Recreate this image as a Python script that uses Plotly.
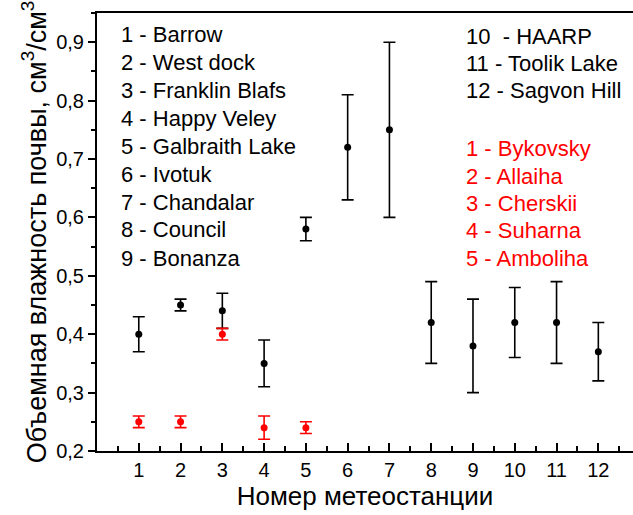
import plotly.graph_objects as go

# Data
stations = [1, 2, 3, 4, 5, 6, 7, 8, 9, 10, 11, 12]
black_vals = [0.40, 0.45, 0.44, 0.35, 0.58, 0.72, 0.75, 0.42, 0.38, 0.42, 0.42, 0.37]
black_hi = [0.43, 0.46, 0.47, 0.39, 0.60, 0.81, 0.90, 0.49, 0.46, 0.48, 0.49, 0.42]
black_lo = [0.37, 0.44, 0.41, 0.31, 0.56, 0.63, 0.60, 0.35, 0.30, 0.36, 0.35, 0.32]

red_stations = [1, 2, 3, 4, 5]
red_vals = [0.25, 0.25, 0.40, 0.24, 0.24]
red_hi = [0.26, 0.26, 0.41, 0.26, 0.25]
red_lo = [0.24, 0.24, 0.39, 0.22, 0.23]

left_labels = ["1 - Barrow", "2 - West dock", "3 - Franklin Blafs", "4 - Happy Veley",
               "5 - Galbraith Lake", "6 - Ivotuk", "7 - Chandalar", "8 - Council", "9 - Bonanza"]
right_labels = ["10\u00a0 - HAARP", "11 - Toolik Lake", "12 - Sagvon Hill"]
red_labels = ["1 - Bykovsky", "2 - Allaiha", "3 - Cherskii", "4 - Suharna", "5 - Amboliha"]

y_ticks = [0.2, 0.3, 0.4, 0.5, 0.6, 0.7, 0.8, 0.9]
y_ticktext = ["0,2", "0,3", "0,4", "0,5", "0,6", "0,7", "0,8", "0,9"]

FONT = "Liberation Sans, Arial, sans-serif"

fig = go.Figure()
fig.add_trace(go.Scatter(
    x=stations, y=black_vals, mode="markers",
    marker=dict(color="black", size=7),
    error_y=dict(type="data", symmetric=False,
                 array=[h - v for h, v in zip(black_hi, black_vals)],
                 arrayminus=[v - l for l, v in zip(black_lo, black_vals)],
                 color="black", thickness=1.6, width=6),
    showlegend=False))
fig.add_trace(go.Scatter(
    x=red_stations, y=red_vals, mode="markers",
    marker=dict(color="red", size=7),
    error_y=dict(type="data", symmetric=False,
                 array=[h - v for h, v in zip(red_hi, red_vals)],
                 arrayminus=[v - l for l, v in zip(red_lo, red_vals)],
                 color="red", thickness=1.6, width=6),
    showlegend=False))

# plot area geometry (pixels) for annotation placement
L, R, T, B = 97, 633, 13.3, 450.7
def px(x):
    return (x - L) / (R - L)
def py(y):
    return (B - y) / (B - T)

annotations = []
left_y = [35, 62.7, 90.7, 118.3, 146.7, 175, 202.7, 230, 258.3]
for lab, yy in zip(left_labels, left_y):
    annotations.append(dict(x=px(119), y=py(yy), xref="paper", yref="paper", text=lab,
                            showarrow=False, xanchor="left", yanchor="middle",
                            font=dict(size=22, color="black", family=FONT)))
right_y = [36.7, 64, 91]
for lab, yy in zip(right_labels, right_y):
    annotations.append(dict(x=px(464), y=py(yy), xref="paper", yref="paper", text=lab,
                            showarrow=False, xanchor="left", yanchor="middle",
                            font=dict(size=22, color="black", family=FONT)))
red_y = [149, 176.7, 204, 231, 258.3]
for lab, yy in zip(red_labels, red_y):
    annotations.append(dict(x=px(464), y=py(yy), xref="paper", yref="paper", text=lab,
                            showarrow=False, xanchor="left", yanchor="middle",
                            font=dict(size=22, color="red", family=FONT)))

fig.update_layout(
    width=633, height=515,
    margin=dict(l=97, r=0, t=13, b=64),
    plot_bgcolor="white", paper_bgcolor="white",
    font=dict(family=FONT, color="black"),
    annotations=annotations,
    xaxis=dict(range=[0, 12.83], tickmode="array", tickvals=stations,
               ticktext=[str(s) for s in stations],
               ticks="inside", ticklen=8, tickwidth=1.5, tickcolor="black",
               minor=dict(ticks="inside", ticklen=5, tickwidth=1.5, tickcolor="black", dtick=0.5, tick0=0.5),
               showline=True, linecolor="black", linewidth=2, mirror=True,
               showgrid=False, zeroline=False,
               tickfont=dict(size=20, family=FONT),
               title=dict(text="Номер метеостанции", font=dict(size=26, family=FONT), standoff=2)),
    yaxis=dict(range=[0.2, 0.95], tickmode="array", tickvals=y_ticks, ticktext=y_ticktext,
               ticks="outside", ticklen=7, tickwidth=1.5, tickcolor="black",
               minor=dict(ticks="outside", ticklen=4, tickwidth=1.5, tickcolor="black", dtick=0.05, tick0=0.25),
               showline=True, linecolor="black", linewidth=2,
               showgrid=False, zeroline=False,
               tickfont=dict(size=20, family=FONT),
               title=dict(text="Объемная влажность почвы, см<sup>3</sup>/см<sup>3</sup>",
                          font=dict(size=27, family=FONT), standoff=2)),
)

fig.write_html("out.html")
